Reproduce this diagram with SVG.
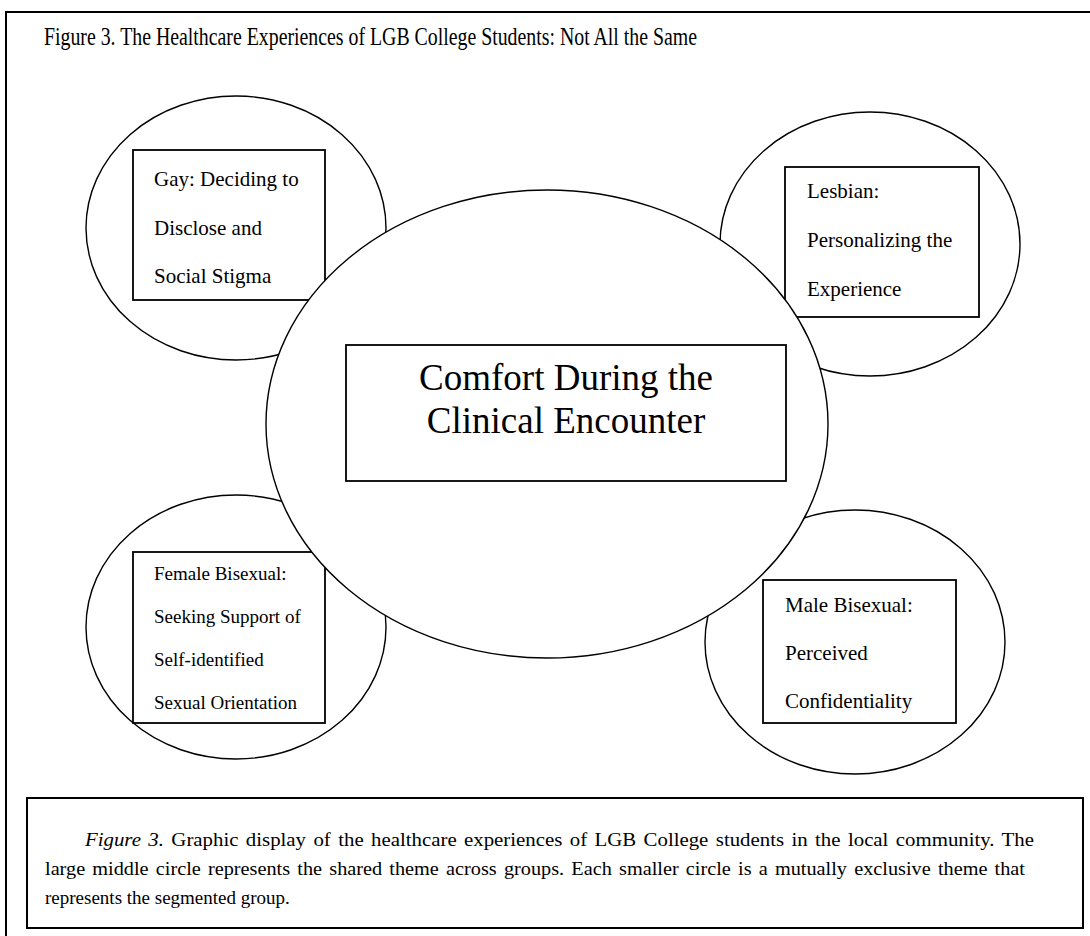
<svg xmlns="http://www.w3.org/2000/svg" width="1090" height="936" viewBox="0 0 1090 936">
<style>
.t{font-family:"Liberation Serif","Times New Roman",serif;fill:#000}
.el{fill:#fff;stroke:#000;stroke-width:1.4}
.bx{fill:#fff;stroke:#000;stroke-width:1.8}
.small{font-size:21px}
.fsmall{font-size:19px}
.cap{font-size:19px}
</style>
<rect width="1090" height="936" fill="#fff"/>
<g id="frame">
<path d="M6,936 V12 H1090" fill="none" stroke="#000" stroke-width="2"/>
</g>
<g id="title">
<text class="t" x="44" y="45" font-size="25" textLength="653" lengthAdjust="spacingAndGlyphs">Figure 3. The Healthcare Experiences of LGB College Students: Not All the Same</text>
</g>
<g id="connectors"></g>
<g id="gay">
<ellipse class="el" cx="236" cy="228" rx="150" ry="132"/>
<rect class="bx" x="133" y="150" width="192" height="150"/>
<text class="t small" x="154" y="186">Gay: Deciding to</text>
<text class="t small" x="154" y="235">Disclose and</text>
<text class="t small" x="154" y="283">Social Stigma</text>
</g>
<g id="lesbian">
<ellipse class="el" cx="870" cy="244" rx="150" ry="132"/>
<rect class="bx" x="785" y="167" width="194" height="150"/>
<text class="t small" x="807" y="198">Lesbian:</text>
<text class="t small" x="807" y="247">Personalizing the</text>
<text class="t small" x="807" y="296">Experience</text>
</g>
<g id="female-bisexual">
<ellipse class="el" cx="236" cy="627" rx="150" ry="132"/>
<rect class="bx" x="133" y="552" width="192" height="171"/>
<text class="t fsmall" x="154" y="580">Female Bisexual:</text>
<text class="t fsmall" x="154" y="623">Seeking Support of</text>
<text class="t fsmall" x="154" y="666">Self-identified</text>
<text class="t fsmall" x="154" y="709">Sexual Orientation</text>
</g>
<g id="male-bisexual">
<ellipse class="el" cx="855" cy="642" rx="150" ry="132"/>
<rect class="bx" x="763" y="580" width="193" height="143"/>
<text class="t small" x="785" y="612">Male Bisexual:</text>
<text class="t small" x="785" y="660">Perceived</text>
<text class="t small" x="785" y="708">Confidentiality</text>
</g>
<g id="comfort">
<ellipse class="el" cx="547" cy="424" rx="281" ry="234"/>
<rect class="bx" x="346" y="345" width="440" height="136"/>
<text class="t" x="566" y="390" font-size="37" text-anchor="middle">Comfort During the</text>
<text class="t" x="566" y="433" font-size="37" text-anchor="middle">Clinical Encounter</text>
</g>
<g id="caption">
<rect x="27" y="798" width="1056" height="130" fill="#fff" stroke="#000" stroke-width="2"/>
<text class="t cap" x="85" y="846" word-spacing="2" textLength="949" lengthAdjust="spacingAndGlyphs"><tspan font-style="italic">Figure 3.</tspan> Graphic display of the healthcare experiences of LGB College students in the local community. The</text>
<text class="t cap" x="45" y="875" word-spacing="2" textLength="980" lengthAdjust="spacingAndGlyphs">large middle circle represents the shared theme across groups. Each smaller circle is a mutually exclusive theme that</text>
<text class="t cap" x="45" y="904">represents the segmented group.</text>
</g>
</svg>
